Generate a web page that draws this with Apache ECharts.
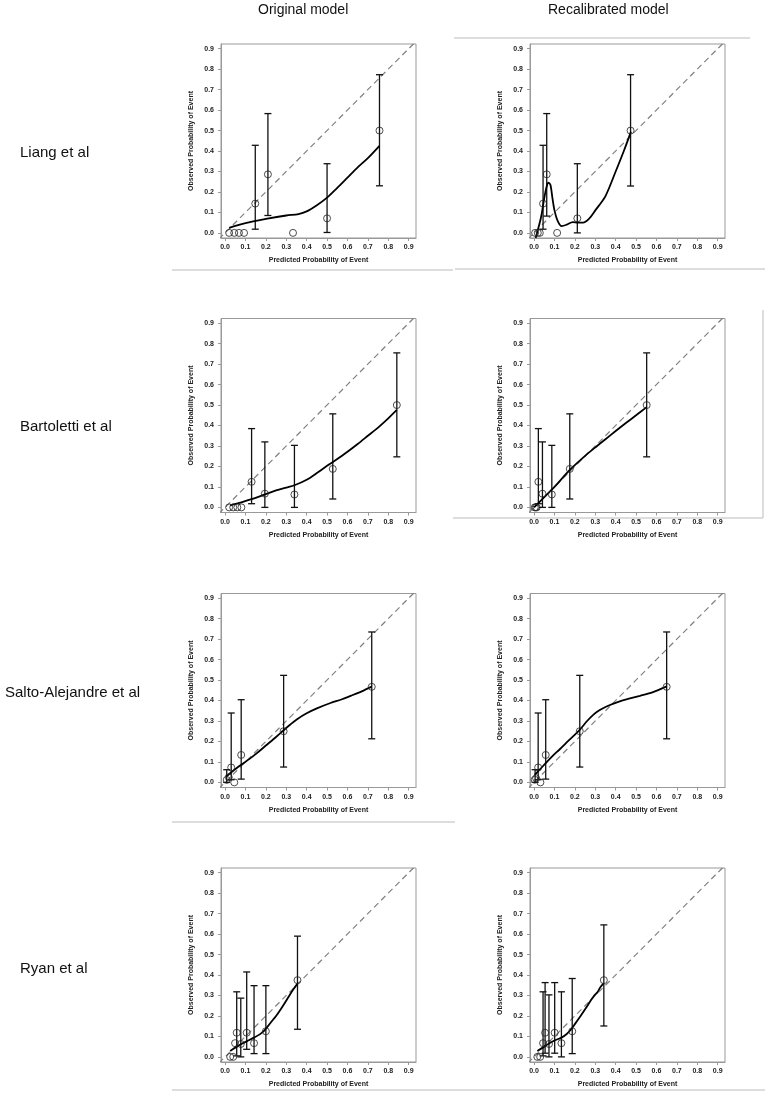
<!DOCTYPE html>
<html>
<head>
<meta charset="utf-8">
<title>Calibration plots</title>
<script src="https://cdn.jsdelivr.net/npm/echarts@6/dist/echarts.min.js"></script>
<style>
html, body { margin: 0; padding: 0; background: #fff; }
#main { width: 765px; height: 1097px; }
</style>
</head>
<body>
<div id="main"></div>
<script>
// tick labels, same on both axes of every panel
const tickValues = [0, 0.1, 0.2, 0.3, 0.4, 0.5, 0.6, 0.7, 0.8, 0.9]

// Liang et al - original
const liangOrigPts = [[0.02, 0], [0.045, 0], [0.068, 0], [0.093, 0], [0.333, 0], [0.148, 0.143], [0.21, 0.286], [0.5, 0.071], [0.757, 0.5]]
const liangOrigCI = [[0.148, 0.018, 0.428], [0.21, 0.085, 0.583], [0.5, 0.002, 0.338], [0.757, 0.23, 0.773]]
const liangOrigCurve = [[0.02, 0.025], [0.1, 0.048], [0.2, 0.068], [0.3, 0.085], [0.36, 0.092], [0.4, 0.105], [0.45, 0.135], [0.5, 0.172], [0.55, 0.22], [0.6, 0.27], [0.65, 0.32], [0.7, 0.365], [0.757, 0.425]]

// Liang et al - recalibrated
const liangRecalPts = [[0.005, 0], [0.018, 0], [0.028, 0], [0.113, 0], [0.044, 0.143], [0.062, 0.286], [0.212, 0.071], [0.473, 0.5]]
const liangRecalCI = [[0.044, 0.018, 0.428], [0.062, 0.082, 0.583], [0.212, 0.0, 0.338], [0.473, 0.229, 0.773]]
const liangRecalCurve = [[0.008, -0.025], [0.02, 0.02], [0.035, 0.08], [0.05, 0.17], [0.06, 0.22], [0.07, 0.245], [0.08, 0.235], [0.09, 0.17], [0.1, 0.11], [0.115, 0.06], [0.135, 0.033], [0.16, 0.04], [0.19, 0.053], [0.215, 0.05], [0.24, 0.05], [0.27, 0.07], [0.3, 0.11], [0.35, 0.18], [0.4, 0.3], [0.44, 0.4], [0.475, 0.495]]

// Bartoletti et al - original
const bartOrigPts = [[0.02, 0], [0.04, 0], [0.06, 0], [0.08, 0], [0.13, 0.125], [0.195, 0.067], [0.34, 0.063], [0.528, 0.188], [0.842, 0.5]]
const bartOrigCI = [[0.13, 0.018, 0.385], [0.195, 0.0, 0.32], [0.34, 0.0, 0.303], [0.528, 0.041, 0.457], [0.842, 0.247, 0.755]]
const bartOrigCurve = [[0.024, 0.01], [0.08, 0.025], [0.13, 0.04], [0.2, 0.065], [0.25, 0.083], [0.3, 0.097], [0.34, 0.108], [0.4, 0.135], [0.45, 0.168], [0.5, 0.203], [0.55, 0.236], [0.6, 0.272], [0.65, 0.31], [0.7, 0.35], [0.75, 0.39], [0.8, 0.435], [0.842, 0.476]]

// Bartoletti et al - recalibrated
const bartRecalPts = [[0.003, 0], [0.008, 0], [0.013, 0], [0.021, 0.125], [0.041, 0.067], [0.087, 0.063], [0.175, 0.188], [0.552, 0.5]]
const bartRecalCI = [[0.021, 0.018, 0.385], [0.041, 0.0, 0.32], [0.087, 0.0, 0.303], [0.175, 0.041, 0.457], [0.552, 0.247, 0.755]]
const bartRecalCurve = [[0, 0], [0.05, 0.05], [0.1, 0.1], [0.175, 0.183], [0.25, 0.252], [0.3, 0.293], [0.35, 0.333], [0.4, 0.373], [0.45, 0.412], [0.5, 0.45], [0.552, 0.49]]

// Salto-Alejandre et al - original
const saltoOrigPts = [[0.008, 0.012], [0.018, 0.025], [0.03, 0.073], [0.045, 0], [0.079, 0.134], [0.287, 0.25], [0.719, 0.467]]
const saltoOrigCI = [[0.008, 0.0, 0.062], [0.03, 0.013, 0.339], [0.079, 0.016, 0.404], [0.287, 0.075, 0.523], [0.719, 0.213, 0.735]]
const saltoOrigCurve = [[0.005, 0.028], [0.04, 0.057], [0.079, 0.086], [0.12, 0.115], [0.156, 0.143], [0.2, 0.18], [0.25, 0.222], [0.287, 0.255], [0.32, 0.283], [0.353, 0.309], [0.4, 0.338], [0.45, 0.362], [0.517, 0.388], [0.57, 0.405], [0.616, 0.423], [0.67, 0.445], [0.719, 0.468]]

// Salto-Alejandre et al - recalibrated
const saltoRecalPts = [[0.003, 0.013], [0.01, 0.02], [0.02, 0.073], [0.031, 0], [0.057, 0.134], [0.224, 0.25], [0.65, 0.467]]
const saltoRecalCI = [[0.005, 0.0, 0.062], [0.02, 0.013, 0.339], [0.057, 0.016, 0.404], [0.224, 0.075, 0.523], [0.65, 0.213, 0.735]]
const saltoRecalCurve = [[0.003, 0.037], [0.03, 0.065], [0.057, 0.094], [0.09, 0.128], [0.126, 0.162], [0.17, 0.205], [0.224, 0.257], [0.26, 0.3], [0.29, 0.33], [0.32, 0.352], [0.355, 0.371], [0.42, 0.396], [0.47, 0.41], [0.519, 0.423], [0.58, 0.44], [0.65, 0.469]]

// Ryan et al - original
const ryanOrigPts = [[0.025, 0], [0.04, 0], [0.049, 0.067], [0.057, 0.118], [0.077, 0.063], [0.106, 0.118], [0.142, 0.067], [0.2, 0.125], [0.355, 0.375]]
const ryanOrigCI = [[0.057, 0.005, 0.318], [0.077, 0.0, 0.287], [0.106, 0.037, 0.415], [0.142, 0.016, 0.348], [0.2, 0.016, 0.348], [0.355, 0.135, 0.59]]
const ryanOrigCurve = [[0.025, 0.029], [0.05, 0.045], [0.077, 0.062], [0.11, 0.078], [0.142, 0.094], [0.17, 0.11], [0.191, 0.127], [0.21, 0.15], [0.224, 0.168], [0.25, 0.2], [0.273, 0.233], [0.295, 0.267], [0.314, 0.298], [0.335, 0.33], [0.355, 0.358]]

// Ryan et al - recalibrated
const ryanRecalPts = [[0.016, 0], [0.03, 0], [0.044, 0.067], [0.054, 0.118], [0.073, 0.063], [0.101, 0.118], [0.134, 0.067], [0.187, 0.125], [0.342, 0.375]]
const ryanRecalCI = [[0.044, 0.005, 0.318], [0.054, 0.018, 0.363], [0.073, 0.0, 0.303], [0.101, 0.018, 0.363], [0.134, 0.0, 0.318], [0.187, 0.016, 0.383], [0.342, 0.151, 0.645]]
const ryanRecalCurve = [[0.016, 0.029], [0.045, 0.047], [0.073, 0.065], [0.1, 0.08], [0.134, 0.094], [0.16, 0.112], [0.182, 0.135], [0.2, 0.16], [0.228, 0.2], [0.255, 0.24], [0.277, 0.274], [0.295, 0.3], [0.309, 0.314], [0.325, 0.34], [0.342, 0.36]]

const studies = ['Liang et al', 'Bartoletti et al', 'Salto-Alejandre et al', 'Ryan et al']
const columns = ['Original model', 'Recalibrated model']

const panels = [
  { pts: liangOrigPts, ci: liangOrigCI, curve: liangOrigCurve },
  { pts: liangRecalPts, ci: liangRecalCI, curve: liangRecalCurve },
  { pts: bartOrigPts, ci: bartOrigCI, curve: bartOrigCurve },
  { pts: bartRecalPts, ci: bartRecalCI, curve: bartRecalCurve },
  { pts: saltoOrigPts, ci: saltoOrigCI, curve: saltoOrigCurve },
  { pts: saltoRecalPts, ci: saltoRecalCI, curve: saltoRecalCurve },
  { pts: ryanOrigPts, ci: ryanOrigCI, curve: ryanOrigCurve },
  { pts: ryanRecalPts, ci: ryanRecalCI, curve: ryanRecalCurve }
]

const FONT = 'Liberation Sans, Arial, Helvetica, sans-serif'
const gridLeft = [221, 530]
const gridTop = [44, 318.5, 593.5, 868]

function renderBar(params, api) {
  const x = api.value(0)
  const lo = api.coord([x, api.value(1)])
  const hi = api.coord([x, api.value(2)])
  const w = 3.5
  const style = { stroke: '#111', lineWidth: 1.3 }
  return {
    type: 'group',
    children: [
      { type: 'line', shape: { x1: lo[0], y1: lo[1], x2: hi[0], y2: hi[1] }, style: style },
      { type: 'line', shape: { x1: hi[0] - w, y1: hi[1], x2: hi[0] + w, y2: hi[1] }, style: style },
      { type: 'line', shape: { x1: lo[0] - w, y1: lo[1], x2: lo[0] + w, y2: lo[1] }, style: style }
    ]
  }
}

const axisCommon = {
  type: 'value',
  nameLocation: 'middle',
  nameTextStyle: { fontSize: 7, fontWeight: 'bold', color: '#222', fontFamily: FONT },
  axisLine: { onZero: false, lineStyle: { color: '#999' } },
  axisTick: { customValues: tickValues, length: 3, lineStyle: { color: '#999' } },
  axisLabel: {
    customValues: tickValues, fontSize: 7, fontWeight: 'bold', color: '#222', fontFamily: FONT,
    formatter: function(v) { return v.toFixed(1) }
  },
  splitLine: { show: false }
}

const grid = []
const xAxis = []
const yAxis = []
const series = []

panels.forEach(function(p, i) {
  const row = Math.floor(i / 2)
  const col = i % 2
  grid.push({
    left: gridLeft[col], top: gridTop[row], width: 195, height: 194,
    show: true, borderColor: '#999', borderWidth: 1
  })
  xAxis.push(Object.assign({}, axisCommon, {
    gridIndex: i, min: -0.02, max: 0.936,
    name: 'Predicted Probability of Event', nameGap: 19,
    axisLabel: Object.assign({}, axisCommon.axisLabel, { margin: 6 })
  }))
  yAxis.push(Object.assign({}, axisCommon, {
    gridIndex: i, min: -0.025, max: 0.923,
    name: 'Observed Probability of Event', nameGap: 26, nameRotate: 90,
    axisLabel: Object.assign({}, axisCommon.axisLabel, { margin: 7 })
  }))
  series.push({
    type: 'line', xAxisIndex: i, yAxisIndex: i, silent: true, clip: true,
    data: [[-0.1, -0.1], [1, 1]], symbol: 'none',
    lineStyle: { color: '#808080', width: 1.2, type: [6, 4] }, z: 1
  })
  series.push({
    type: 'custom', xAxisIndex: i, yAxisIndex: i, silent: true,
    data: p.ci, renderItem: renderBar, encode: { x: 0, y: [1, 2] }, z: 2
  })
  series.push({
    type: 'line', xAxisIndex: i, yAxisIndex: i, silent: true, clip: true,
    data: p.curve, smooth: 0.3, symbol: 'none',
    lineStyle: { color: '#000', width: 1.8 }, z: 3
  })
  series.push({
    type: 'scatter', xAxisIndex: i, yAxisIndex: i, silent: true,
    data: p.pts, symbol: 'circle', symbolSize: 7,
    itemStyle: { color: 'rgba(255,255,255,0)', borderColor: '#222', borderWidth: 1 }, z: 4
  })
})

const sepStyle = { stroke: '#d2d2d2', lineWidth: 1.5 }
const graphic = [
  { type: 'text', left: 258, top: 3, style: { text: columns[0], fontSize: 14, fontFamily: FONT, fill: '#111' } },
  { type: 'text', left: 548, top: 3, style: { text: columns[1], fontSize: 14, fontFamily: FONT, fill: '#111' } },
  { type: 'text', left: 20, top: 145, style: { text: studies[0], fontSize: 15, fontFamily: FONT, fill: '#111' } },
  { type: 'text', left: 20, top: 419, style: { text: studies[1], fontSize: 15, fontFamily: FONT, fill: '#111' } },
  { type: 'text', left: 5, top: 685, style: { text: studies[2], fontSize: 15, fontFamily: FONT, fill: '#111' } },
  { type: 'text', left: 20, top: 961, style: { text: studies[3], fontSize: 15, fontFamily: FONT, fill: '#111' } },
  { type: 'line', shape: { x1: 172, y1: 270, x2: 453, y2: 270 }, style: sepStyle },
  { type: 'line', shape: { x1: 454, y1: 38, x2: 750, y2: 38 }, style: sepStyle },
  { type: 'line', shape: { x1: 455, y1: 269, x2: 765, y2: 269 }, style: sepStyle },
  { type: 'line', shape: { x1: 763, y1: 310, x2: 763, y2: 518 }, style: sepStyle },
  { type: 'line', shape: { x1: 453, y1: 518, x2: 763, y2: 518 }, style: sepStyle },
  { type: 'line', shape: { x1: 172, y1: 822, x2: 455, y2: 822 }, style: sepStyle },
  { type: 'line', shape: { x1: 172, y1: 1090, x2: 765, y2: 1090 }, style: sepStyle }
]

const chart = echarts.init(document.getElementById('main'))
chart.setOption({
  animation: false,
  backgroundColor: '#fff',
  textStyle: { fontFamily: FONT },
  grid: grid,
  xAxis: xAxis,
  yAxis: yAxis,
  series: series,
  graphic: graphic
})
</script>
</body>
</html>
